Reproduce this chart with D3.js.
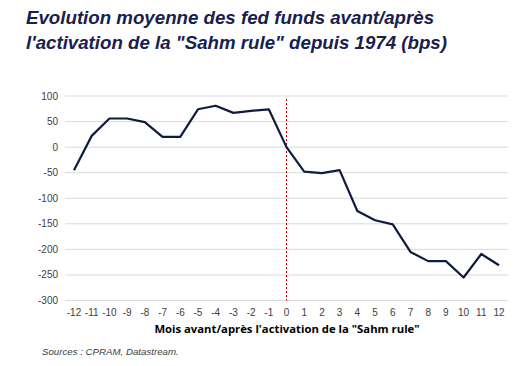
<!DOCTYPE html>
<html><head><meta charset="utf-8">
<script src="https://cdn.jsdelivr.net/npm/d3@7"></script>
<style>body{margin:0;background:#fff;}svg{display:block;}</style>
</head><body>
<svg id="c" width="523" height="366"></svg>
<script>
const months = [-12,-11,-10,-9,-8,-7,-6,-5,-4,-3,-2,-1,0,1,2,3,4,5,6,7,8,9,10,11,12];
const values = [-45,22,56,56,49,20,20,74,81,67,71,74,0,-48,-51,-45,-125,-143,-151,-205,-223,-223,-255,-209,-231];
const yTicks = [100,50,0,-50,-100,-150,-200,-250,-300];
const titleLines = ["Evolution moyenne des fed funds avant/après","l'activation de la \"Sahm rule\" depuis 1974 (bps)"];
const xTitle = "Mois avant/après l'activation de la \"Sahm rule\"";
const source = "Sources : CPRAM, Datastream.";

const svg = d3.select("#c");
const x = d3.scaleLinear().domain([-12,12]).range([74,499]);
const y = d3.scaleLinear().domain([-300,100]).range([300.5,96]);

svg.selectAll("text.title").data(titleLines).join("text")
  .attr("x",26).attr("y",(d,i)=>24+i*25)
  .attr("font-family","Liberation Sans, Arial, sans-serif").attr("font-size",18.7)
  .attr("font-weight","bold").attr("font-style","italic").attr("fill","#17204f")
  .text(d=>d);

svg.selectAll("line.grid").data(yTicks).join("line")
  .attr("x1",65).attr("x2",508).attr("y1",d=>y(d)).attr("y2",d=>y(d))
  .attr("stroke","#d9d9d9").attr("stroke-width",1);

svg.selectAll("text.yt").data(yTicks).join("text")
  .attr("x",58).attr("y",d=>y(d)+3.5).attr("text-anchor","end")
  .attr("font-family","Liberation Sans, Arial, sans-serif").attr("font-size",10)
  .attr("fill","#404040").text(d=>d);

svg.selectAll("text.xt").data(months).join("text")
  .attr("x",d=>x(d)).attr("y",316).attr("text-anchor","middle")
  .attr("font-family","Liberation Sans, Arial, sans-serif").attr("font-size",10)
  .attr("fill","#404040").text(d=>d);

svg.append("line").attr("x1",x(0)).attr("x2",x(0)).attr("y1",99).attr("y2",y(-300))
  .attr("stroke","#c00000").attr("stroke-width",1).attr("stroke-dasharray","2,2");

svg.append("path").datum(months.map((m,i)=>[m,values[i]]))
  .attr("d",d3.line().x(d=>x(d[0])).y(d=>y(d[1])))
  .attr("fill","none").attr("stroke","#0f1c3f").attr("stroke-width",2.2)
  .attr("stroke-linejoin","round");

svg.append("text").attr("x",287).attr("y",333).attr("text-anchor","middle")
  .attr("font-family","Open Sans, Liberation Sans, sans-serif").attr("font-size",11.3)
  .attr("font-weight","bold").attr("fill","#000").text(xTitle);

svg.append("text").attr("x",42).attr("y",355)
  .attr("font-family","Liberation Sans, Arial, sans-serif").attr("font-size",9.7)
  .attr("font-style","italic").attr("fill","#404040").text(source);
</script>
</body></html>
